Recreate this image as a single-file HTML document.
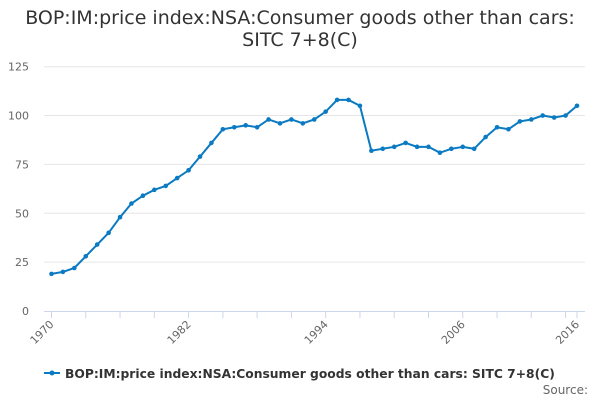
<!DOCTYPE html>
<html><head><meta charset="utf-8"><style>
body{margin:0;background:#fff;font-family:"Liberation Sans","DejaVu Sans",sans-serif;}
svg text{font-family:"DejaVu Sans","Liberation Sans",sans-serif;}
</style></head><body>
<svg width="600" height="400">
<text x="300" y="24" text-anchor="middle" font-size="19" fill="#333"><tspan x="300">BOP:IM:price index:NSA:Consumer goods other than cars:</tspan><tspan x="300" dy="22">SITC 7+8(C)</tspan></text>
<g id="grid"></g><g id="axes"></g><g id="series"></g>
<g>
<line x1="44" y1="373" x2="60" y2="373" stroke="#0a7ac2" stroke-width="2"/>
<circle cx="52" cy="373" r="2.5" fill="#0a7ac2"/>
<text x="65" y="378" font-size="12.3" font-weight="bold" fill="#333">BOP:IM:price index:NSA:Consumer goods other than cars: SITC 7+8(C)</text>
</g>
<text x="588" y="394" text-anchor="end" font-size="12" fill="#666">Source:</text>
</svg>
<script>
const years=[1970,1971,1972,1973,1974,1975,1976,1977,1978,1979,1980,1981,1982,1983,1984,1985,1986,1987,1988,1989,1990,1991,1992,1993,1994,1995,1996,1997,1998,1999,2000,2001,2002,2003,2004,2005,2006,2007,2008,2009,2010,2011,2012,2013,2014,2015,2016];
const values=[19,20,22,28,34,40,48,55,59,62,64,68,72,79,86,93,94,95,94,98,96,98,96,98,102,108,108,105,82,83,84,86,84,84,81,83,84,83,89,94,93,97,98,100,99,100,105];
const yTicks=[0,25,50,75,100,125];
const xLabels=[1970,1982,1994,2006,2016];
const NS='http://www.w3.org/2000/svg';
const X=y=>51.5+(y-1970)*(577-51.5)/46;
const Y=v=>311-v*(311-66.7)/125;
function mk(t,a,p){const e=document.createElementNS(NS,t);for(const k in a)e.setAttribute(k,a[k]);p.appendChild(e);return e;}
const g=document.getElementById('grid'),ax=document.getElementById('axes'),s=document.getElementById('series');
yTicks.forEach(v=>{
 if(v>0){const l=mk('line',{x1:44,x2:585,y1:Y(v),y2:Y(v),stroke:'#e6e6e6','stroke-width':1},g);
 
 }
 const t=mk('text',{x:29,y:Y(v)+4,'text-anchor':'end','font-size':11,fill:'#666'},ax);t.textContent=v;
 
 
});
const al=mk('line',{x1:44,x2:585,y1:311.5,y2:311.5,stroke:'#ccd6eb','stroke-width':1},ax);


const tk=[];for(let y=1970;y<2016;y+=3)tk.push(y);tk.push(2016);
tk.forEach(y=>{const l=mk('line',{x1:X(y),x2:X(y),y1:311,y2:318,stroke:'#ccd6eb'},ax);
 
 });
xLabels.forEach(y=>{const t=mk('text',{x:X(y)+3,y:325,'text-anchor':'end','font-size':11,fill:'#666',transform:`rotate(-45 ${X(y)+3} 325)`},ax);t.textContent=y;
 
 });
const p=mk('polyline',{points:years.map((y,i)=>X(y)+','+Y(values[i])).join(' '),fill:'none',stroke:'#0a7ac2','stroke-width':2},s);


years.forEach((y,i)=>{const c=mk('circle',{cx:X(y),cy:Y(values[i]),r:2.3,fill:'#0a7ac2'},s);
 
 });
</script>
</body></html>
